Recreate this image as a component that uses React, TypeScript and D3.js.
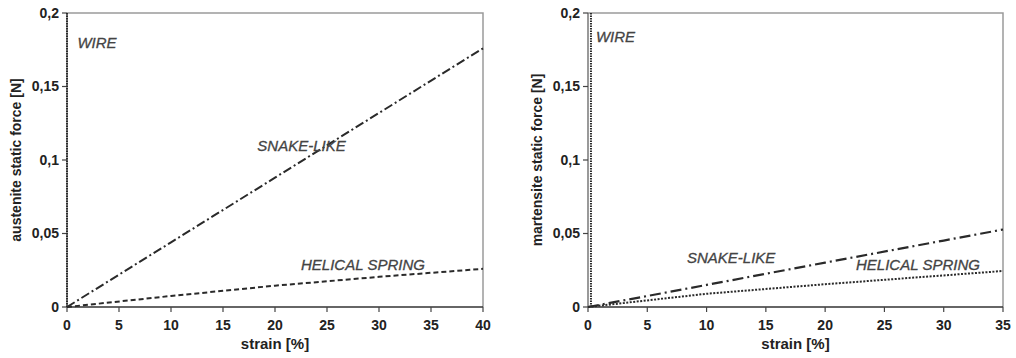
import React from "react";
import * as d3 from "d3";

// ---- data ----
const leftXTicks = [0, 5, 10, 15, 20, 25, 30, 35, 40];
const rightXTicks = [0, 5, 10, 15, 20, 25, 30, 35];
const yTicks = [0, 0.05, 0.1, 0.15, 0.2];
const yTickLabels = ["0", "0,05", "0,1", "0,15", "0,2"];

// austenite (left)
const ausWire: [number, number][] = [[0, 0], [0, 0.2]];
const ausSnake: [number, number][] = [[0, 0], [10, 0.044], [20, 0.088], [30, 0.132], [40, 0.176]];
const ausHelical: [number, number][] = [[0, 0], [10, 0.0075], [20, 0.0145], [30, 0.0205], [40, 0.026]];

// martensite (right)
const marWire: [number, number][] = [[0.25, 0], [0.25, 0.2]];
const marSnake: [number, number][] = [[0, 0], [10, 0.015], [20, 0.0302], [30, 0.0452], [35, 0.0527]];
const marHelical: [number, number][] = [[0, 0], [10, 0.009], [20, 0.0155], [30, 0.0215], [35, 0.0245]];

const ausLabels = [
  { text: "WIRE", x: 1, y: 0.176 },
  { text: "SNAKE-LIKE", x: 18.3, y: 0.106 },
  { text: "HELICAL SPRING", x: 22.5, y: 0.0252 },
];
const marLabels = [
  { text: "WIRE", x: 0.67, y: 0.18 },
  { text: "SNAKE-LIKE", x: 8.35, y: 0.03 },
  { text: "HELICAL SPRING", x: 22.6, y: 0.0252 },
];

type Series = { pts: [number, number][]; dash: string; width: number };

function Panel(props: {
  left: number; right: number; top: number; bottom: number;
  xMax: number; xTicks: number[]; yTitle: string; yTitleX: number;
  series: Series[]; labels: { text: string; x: number; y: number }[];
}) {
  const { left, right, top, bottom, xMax, xTicks, yTitle, yTitleX, series, labels } = props;
  const x = d3.scaleLinear().domain([0, xMax]).range([left, right]);
  const y = d3.scaleLinear().domain([0, 0.2]).range([bottom, top]);
  const line = d3.line<[number, number]>().x(d => x(d[0])).y(d => y(d[1]));
  const font = "Liberation Sans, Arial, sans-serif";
  return (
    <g>
      {/* frame */}
      <path d={`M${left},${top}H${right}V${bottom}`} fill="none" stroke="#9a9a9a" strokeWidth={1.5} />
      <line x1={left} x2={left} y1={top} y2={bottom} stroke="#777" strokeWidth={1.5} />
      <line x1={left} x2={right} y1={bottom} y2={bottom} stroke="#333" strokeWidth={1.5} />
      {/* y ticks */}
      {yTicks.map((t, i) => (
        <g key={"y" + i}>
          <line x1={left - 5} x2={left} y1={y(t)} y2={y(t)} stroke="#444" strokeWidth={1.2} />
          <text x={left - 8} y={y(t)} dy="0.35em" textAnchor="end" fontFamily={font} fontWeight="bold" fontSize={14} fill="#222">
            {yTickLabels[i]}
          </text>
        </g>
      ))}
      {/* x ticks */}
      {xTicks.map((t, i) => (
        <g key={"x" + i}>
          <line x1={x(t)} x2={x(t)} y1={bottom} y2={bottom + 5} stroke="#444" strokeWidth={1.2} />
          <text x={x(t)} y={bottom + 23} textAnchor="middle" fontFamily={font} fontWeight="bold" fontSize={14} fill="#222">
            {t}
          </text>
        </g>
      ))}
      {/* series */}
      {series.map((s, i) => (
        <path key={"s" + i} d={line(s.pts) || ""} fill="none" stroke="#2a2a2a" strokeWidth={s.width} strokeDasharray={s.dash} />
      ))}
      {/* labels */}
      {labels.map((l, i) => (
        <text key={"l" + i} x={x(l.x)} y={y(l.y)} fontFamily={font} fontStyle="italic" fontSize={15} fill="#444" stroke="#444" strokeWidth={0.3}>
          {l.text}
        </text>
      ))}
      {/* axis titles */}
      <text x={(left + right) / 2} y={bottom + 42} textAnchor="middle" fontFamily={font} fontWeight="bold" fontSize={15} fill="#222">
        strain [%]
      </text>
      <text transform={`translate(${yTitleX},${(top + bottom) / 2}) rotate(-90)`} textAnchor="middle" fontFamily={font} fontWeight="bold" fontSize={14} fill="#222">
        {yTitle}
      </text>
    </g>
  );
}

export default function App() {
  return (
    <svg width={1016} height={358} style={{ position: "absolute", left: 0, top: 0, background: "#fff" }}>
      <rect width={1016} height={358} fill="#fff" />
      <Panel
        left={67} right={483} top={13} bottom={307} xMax={40} xTicks={leftXTicks}
        yTitle="austenite static force [N]" yTitleX={21}
        series={[
          { pts: ausWire, dash: "1.5,1", width: 2 },
          { pts: ausSnake, dash: "9,3,2,3", width: 2 },
          { pts: ausHelical, dash: "5,3", width: 2 },
        ]}
        labels={ausLabels}
      />
      <Panel
        left={588} right={1003} top={13} bottom={307} xMax={35} xTicks={rightXTicks}
        yTitle="martensite static force [N]" yTitleX={542}
        series={[
          { pts: marWire, dash: "1.5,1", width: 2 },
          { pts: marSnake, dash: "11,4,2,4", width: 2.2 },
          { pts: marHelical, dash: "2,1.5", width: 2 },
        ]}
        labels={marLabels}
      />
    </svg>
  );
}
